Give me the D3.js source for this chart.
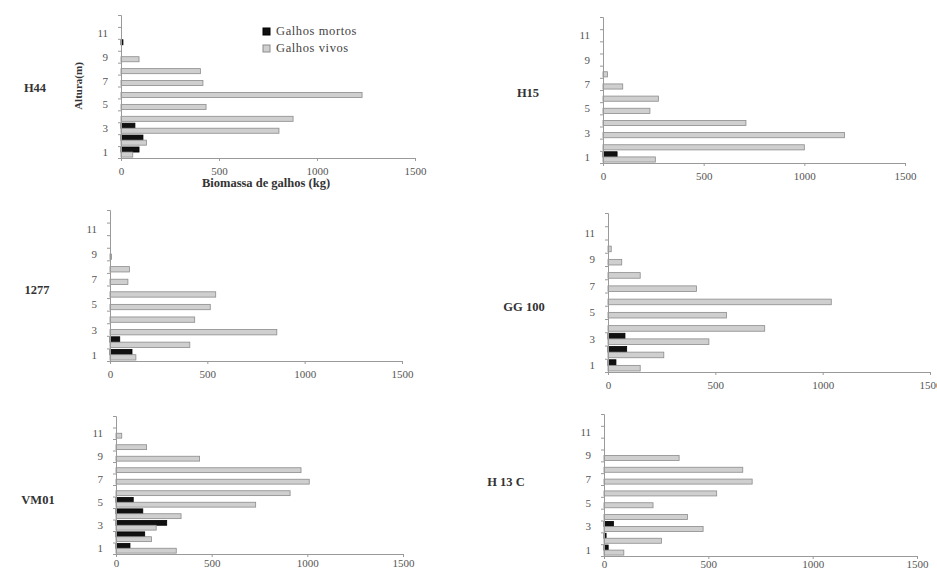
<!DOCTYPE html>
<html><head><meta charset="utf-8">
<script src="https://cdn.jsdelivr.net/npm/d3@7"></script>
<style>
html,body{margin:0;padding:0;background:#fff;}
svg{display:block;}
text{font-family:"Liberation Serif","DejaVu Serif",serif;}
</style></head>
<body>
<svg id="chart" width="937" height="572"></svg>
<script>
// ---- data ----
const levels = [1,2,3,4,5,6,7,8,9,10,11,12];
const levelLabels = [1,3,5,7,9,11];
const xTicks = [0,500,1000,1500];
const seriesNames = ["Galhos mortos","Galhos vivos"];
const panelNames = ["H44","H15","1277","GG 100","VM01","H 13 C"];

const mortosH44  = [92,112,71,0,0,0,0,0,0,10,0,0];
const vivosH44   = [60,130,806,878,434,1230,418,405,92,0,0,0];
const mortosH15  = [70,0,0,0,0,0,0,0,0,0,0,0];
const vivosH15   = [260,1000,1200,710,233,275,98,22,0,0,0,0];
const mortos1277 = [113,50,0,0,0,0,0,0,0,0,0,0];
const vivos1277  = [133,410,857,435,515,543,92,100,8,0,0,0];
const mortosGG   = [37,87,79,0,0,0,0,0,0,0,0,0];
const vivosGG    = [150,260,470,730,552,1040,412,150,64,15,0,0];
const mortosVM   = [73,150,265,140,90,0,0,0,0,0,0,0];
const vivosVM    = [315,185,210,340,730,910,1010,967,437,160,30,0];
const mortosH13  = [20,10,45,0,0,0,0,0,0,0,0,0];
const vivosH13   = [95,275,475,400,235,540,710,665,360,0,0,0];

const seriesData = [
  [mortosH44, vivosH44],
  [mortosH15, vivosH15],
  [mortos1277, vivos1277],
  [mortosGG, vivosGG],
  [mortosVM, vivosVM],
  [mortosH13, vivosH13]
];

// ---- layout ----
const layout = [
  {x0:121, x1:415, top:15,  bottom:158, lx:35,  ly:92,  pad:6},
  {x0:603, x1:905, top:17,  bottom:163, lx:528, ly:97,  pad:6},
  {x0:110, x1:402, top:210, bottom:361, lx:37,  ly:294, pad:6},
  {x0:608, x1:930, top:213, bottom:372, lx:524, ly:311, pad:6},
  {x0:116, x1:403, top:416, bottom:554, lx:38,  ly:504, pad:2},
  {x0:604, x1:917, top:414, bottom:556, lx:506, ly:486, pad:1}
];

const fills = ["#111","#cfcfcf"];
const strokes = ["#000","#8c8c8c"];

const svg = d3.select("#chart");

panelNames.forEach((name,i)=>{
  const L = layout[i];
  const g = svg.append("g");
  const x = d3.scaleLinear().domain([0,1500]).range([L.x0, L.x1]);
  const yBand = d3.scaleBand().domain(levels).range([L.bottom, L.top]).paddingInner(0);
  const yLin = d3.scaleLinear().domain([0.5,12.5]).range([L.bottom, L.top]);
  const sub = d3.scaleBand().domain([0,1]).range([0, yBand.bandwidth()]).paddingInner(0).paddingOuter(0.18);

  // bars
  seriesData[i].forEach((vals,s)=>{
    g.append("g").selectAll("rect").data(levels.map((lv,k)=>({lv, v:vals[k]})).filter(d=>d.v>0))
      .join("rect")
      .attr("x", x(0))
      .attr("y", d=>yBand(d.lv)+sub(s))
      .attr("width", d=>x(d.v)-x(0))
      .attr("height", sub.bandwidth())
      .attr("fill", fills[s])
      .attr("stroke", strokes[s])
      .attr("stroke-width", 0.8);
  });

  // x axis
  const xa = g.append("g").attr("transform",`translate(0,${L.bottom})`)
    .call(d3.axisBottom(x).tickValues(xTicks).tickSize(3).tickPadding(L.pad).tickFormat(d3.format("d")));
  xa.select(".domain").attr("stroke","#9a9a9a");
  xa.selectAll(".tick line").attr("stroke","#9a9a9a");
  xa.selectAll("text").attr("font-size",11).attr("fill","#555")
    .attr("font-family","'Liberation Serif',serif");

  // y axis minor ticks
  const ya = g.append("g").attr("transform",`translate(${L.x0},0)`)
    .call(d3.axisLeft(yLin).tickValues(d3.range(0.5,12.6,1)).tickSize(3).tickFormat(""));
  ya.select(".domain").attr("stroke","#9a9a9a");
  ya.selectAll(".tick line").attr("stroke","#9a9a9a");
  const yl = g.append("g").attr("transform",`translate(${L.x0},0)`)
    .call(d3.axisLeft(yLin).tickValues(levelLabels).tickSize(0).tickPadding(13));
  yl.select(".domain").remove();
  yl.selectAll("text").attr("font-size",11).attr("fill","#555")
    .attr("font-family","'Liberation Serif',serif");

  // panel label
  g.append("text").attr("x",L.lx).attr("y",L.ly).attr("text-anchor","middle")
    .attr("font-size",12.5).attr("font-weight","bold").attr("fill","#333").text(name);
});

// axis titles (first panel)
svg.append("text").attr("transform","translate(82,86) rotate(-90)")
  .attr("text-anchor","middle").attr("font-size",11).attr("font-weight","bold").attr("fill","#333")
  .text("Altura(m)");
svg.append("text").attr("x",266).attr("y",187).attr("text-anchor","middle")
  .attr("font-size",12.5).attr("font-weight","bold").attr("fill","#333")
  .text("Biomassa de galhos (kg)");

// legend
const leg = svg.append("g");
seriesNames.forEach((s,k)=>{
  leg.append("rect").attr("x",263).attr("y",28+k*17).attr("width",7).attr("height",7)
    .attr("fill",fills[k]).attr("stroke",strokes[k]);
  leg.append("text").attr("x",276).attr("y",35+k*17).attr("font-size",12.5).attr("fill","#444")
    .attr("letter-spacing",0.6).text(s);
});
</script>
</body></html>
